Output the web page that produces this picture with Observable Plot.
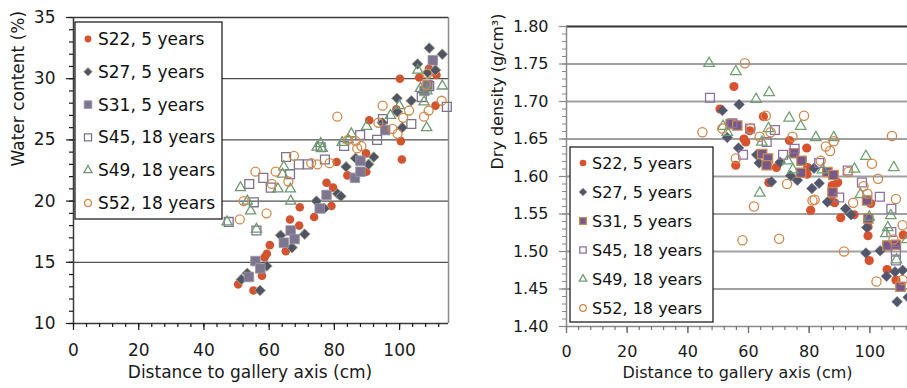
<!DOCTYPE html>
<html><head><meta charset="utf-8">
<script src="https://cdn.jsdelivr.net/npm/d3@7"></script>
<script src="https://cdn.jsdelivr.net/npm/@observablehq/plot@0.6"></script>
<style>
html,body{margin:0;padding:0;background:#fff;overflow:hidden;}
#wrap{position:relative;width:907px;height:388px;overflow:hidden;background:#fff;}
#wrap > svg{position:absolute;top:0;}
</style></head><body><div id="wrap"></div>
<script>
// ---------- data ----------
const seriesNames = ["S22, 5 years","S27, 5 years","S31, 5 years","S45, 18 years","S49, 18 years","S52, 18 years"];

// Water content (%) vs distance (cm)
const S22_water = [[50.5,13.2],[55.2,12.7],[55.7,15.1],[57.8,13.9],[58.6,15.4],[59.3,15.7],[60.2,16.4],[65.1,15.9],[66.4,18.5],[69.2,18.0],[69.4,19.5],[73.8,18.7],[77.6,21.5],[79.1,19.6],[79.6,21.1],[80.7,23.2],[84.0,22.1],[89.7,23.9],[89.8,22.4],[90.7,26.6],[99.0,27.5],[100.1,30.0],[100.4,24.9],[100.7,23.4],[106.0,30.1],[109.0,30.8],[111.3,30.3],[111.0,27.8]];
const S27_water = [[51.5,13.6],[53.3,14.1],[57.2,12.7],[59.3,14.7],[63.5,17.2],[67.0,16.2],[70.9,17.3],[74.5,20.0],[76.9,19.4],[81.0,20.6],[82.0,20.4],[83.6,22.8],[86.5,23.5],[90.5,23.0],[92.1,23.6],[94.7,26.4],[99.2,28.4],[99.3,27.3],[100.8,26.0],[103.6,28.2],[105.5,31.2],[108.6,30.5],[109.1,32.5],[111.0,30.7],[113.1,32.0]];
const S31_water = [[53.8,13.8],[55.8,15.1],[57.3,14.5],[64.5,16.6],[66.6,17.6],[67.8,16.9],[75.5,19.4],[77.6,20.5],[86.3,21.9],[88.0,22.4],[88.0,23.3],[95.6,25.8],[107.6,29.0],[108.6,29.5],[110.2,31.5]];
const S45_water = [[47.6,18.3],[53.9,21.4],[55.3,19.9],[56.1,17.6],[58.2,21.9],[60.5,21.1],[65.2,23.6],[66.4,22.2],[69.1,23.0],[71.9,23.0],[75.8,24.4],[77.1,23.4],[83.0,24.5],[87.9,25.4],[93.1,25.0],[94.9,26.7],[103.6,26.3],[106.8,28.5],[109.1,29.4],[114.5,27.7]];
const S49_water = [[47.1,18.3],[51.2,21.1],[53.3,20.0],[54.3,19.2],[56.1,17.7],[62.7,21.0],[64.1,22.2],[64.5,22.8],[66.5,21.0],[66.6,20.0],[74.7,24.4],[75.8,24.7],[76.3,24.3],[82.4,24.8],[84.3,25.0],[85.2,25.5],[89.9,26.1],[97.2,27.0],[99.9,27.8],[105.6,30.7],[106.4,29.2],[107.5,28.1],[108.4,29.0],[108.3,26.0],[113.1,29.4]];
const S52_water = [[51.0,18.5],[52.2,20.0],[55.8,22.4],[59.2,19.0],[60.8,21.4],[62.0,22.4],[65.9,21.6],[67.6,23.7],[72.9,23.1],[74.8,23.0],[78.5,23.1],[80.9,26.9],[84.2,25.0],[86.5,24.9],[87.0,24.3],[88.3,24.5],[93.5,26.4],[94.8,27.8],[97.8,25.9],[99.4,25.5],[101.1,26.8],[102.9,27.4],[107.5,26.9],[108.9,27.4],[108.1,29.5],[108.5,30.4],[112.9,28.2]];

// Dry density (g/cm3) vs distance (cm)
const S22_density = [[50.6,1.690],[55.2,1.720],[55.8,1.615],[58.5,1.650],[59.1,1.646],[60.4,1.661],[64.9,1.680],[66.4,1.621],[66.7,1.592],[69.2,1.612],[73.5,1.648],[79.2,1.638],[79.5,1.612],[79.3,1.603],[80.5,1.555],[87.6,1.588],[89.4,1.592],[87.4,1.567],[88.4,1.565],[90.4,1.545],[94.8,1.549],[99.4,1.533],[100.3,1.564],[99.4,1.521],[99.8,1.488],[105.7,1.476],[108.6,1.462],[111.0,1.522]];
const S27_density = [[51.4,1.688],[53.0,1.652],[56.7,1.638],[56.9,1.696],[62.7,1.629],[63.5,1.618],[67.6,1.593],[70.4,1.619],[73.9,1.601],[76.1,1.595],[80.9,1.584],[81.6,1.611],[83.3,1.591],[86.0,1.566],[92.0,1.557],[93.8,1.549],[99.0,1.532],[98.7,1.498],[103.4,1.501],[105.5,1.467],[108.3,1.473],[110.8,1.475],[109.0,1.433],[112.6,1.439]];
const S31_density = [[54.1,1.670],[56.3,1.668],[64.5,1.630],[66.4,1.624],[66.0,1.615],[75.0,1.631],[77.5,1.621],[77.3,1.605],[86.0,1.606],[88.0,1.602],[87.7,1.579],[99.1,1.568],[99.5,1.544],[105.8,1.508],[108.6,1.509],[110.1,1.453]];
const S45_density = [[47.3,1.705],[54.7,1.671],[58.2,1.629],[60.5,1.664],[66.0,1.646],[68.7,1.662],[71.4,1.629],[75.2,1.637],[83.3,1.618],[89.9,1.572],[92.7,1.608],[97.4,1.592],[103.3,1.573],[107.1,1.557],[107.1,1.526],[108.6,1.501],[108.6,1.488]];
const S49_density = [[47.0,1.751],[51.6,1.667],[53.0,1.659],[55.8,1.740],[62.5,1.703],[63.7,1.578],[64.4,1.646],[66.6,1.664],[66.8,1.712],[72.9,1.621],[73.4,1.678],[74.6,1.609],[77.2,1.667],[82.2,1.652],[84.4,1.609],[88.1,1.652],[94.9,1.610],[96.9,1.576],[98.7,1.627],[99.8,1.546],[105.3,1.524],[105.9,1.532],[106.9,1.548],[107.9,1.612],[108.8,1.489],[112.3,1.516]];
const S52_density = [[44.8,1.659],[51.4,1.664],[55.8,1.624],[58.0,1.515],[58.8,1.751],[60.7,1.664],[61.8,1.560],[63.7,1.653],[65.7,1.681],[67.3,1.659],[70.1,1.517],[72.7,1.590],[74.5,1.653],[78.3,1.681],[81.1,1.568],[81.8,1.569],[83.8,1.621],[85.5,1.640],[86.9,1.634],[88.1,1.647],[91.5,1.500],[92.9,1.606],[94.5,1.565],[97.9,1.587],[99.2,1.577],[100.7,1.617],[102.7,1.597],[102.2,1.460],[107.3,1.654],[107.8,1.516],[108.6,1.570],[110.8,1.535],[110.8,1.462]];

// ticks
const distTicks = [0, 20, 40, 60, 80, 100];
const distTickMarksR = [0, 20, 40, 60, 80, 100, 120];
const waterTicks = [10, 15, 20, 25, 30, 35];
const densityTicks = [1.40, 1.45, 1.50, 1.55, 1.60, 1.65, 1.70, 1.75, 1.80];

// ---------- styles ----------
const FONT = "DejaVu Sans";
const leftSty = [
  {symbol:"circle",   r:4.3, fill:"#D2532F", stroke:"none", sw:0},
  {symbol:"diamond2", r:4.8, fill:"#4F5367", stroke:"#A3A47A", sw:1},
  {symbol:"square",   r:5.4, fill:"#7E768F", stroke:"#9C97A8", sw:0.8},
  {symbol:"square",   r:5.0, fill:"none",    stroke:"#7C7290", sw:1.3},
  {symbol:"triangle", r:3.8, fill:"none",    stroke:"#6E9870", sw:1.3},
  {symbol:"circle",   r:4.5, fill:"none",    stroke:"#D28A4B", sw:1.3}
];
const rightSty = [
  {symbol:"circle",   r:4.6, fill:"#D9522E", stroke:"none", sw:0},
  {symbol:"diamond2", r:4.8, fill:"#52566B", stroke:"#6B6E80", sw:0.6},
  {symbol:"square",   r:5.3, fill:"#77588A", stroke:"#C98B52", sw:1.3},
  {symbol:"square",   r:5.0, fill:"none",    stroke:"#8C70A6", sw:1.3},
  {symbol:"triangle", r:3.9, fill:"none",    stroke:"#6FA070", sw:1.3},
  {symbol:"circle",   r:4.6, fill:"none",    stroke:"#D2864A", sw:1.3}
];
const waterSets = [S22_water,S27_water,S31_water,S45_water,S49_water,S52_water];
const densitySets = [S22_density,S27_density,S31_density,S45_density,S49_density,S52_density];

const pts = arr => arr.map(([x, y]) => ({x, y}));
const dots = (sets, sty) => sets.map((s, i) => Plot.dot(pts(s), {
  x: "x", y: "y", symbol: sty[i].symbol, r: sty[i].r,
  fill: sty[i].fill, stroke: sty[i].stroke, strokeWidth: sty[i].sw
}));

const wrap = document.getElementById("wrap");

// ---------- left chart ----------
const left = Plot.plot({
  width: 455, height: 388,
  marginLeft: 73, marginRight: 7, marginTop: 17, marginBottom: 65,
  x: {domain: [0, 115], axis: null},
  y: {domain: [10, 35], axis: null},
  style: {fontFamily: FONT, fontSize: "17px", color: "#1a1a1a", background: "transparent", overflow: "visible"},
  marks: [
    Plot.ruleY(waterTicks.filter(d => d > 10 && d < 35), {stroke: "#505050", strokeWidth: 1.3}),
    Plot.ruleY([35], {stroke: "#3a3a3a", strokeWidth: 1.5}),
    Plot.ruleX([115], {stroke: "#8a8a8a", strokeWidth: 1.5}),
    Plot.ruleX([0], {stroke: "#3a3a3a", strokeWidth: 1.5}),
    Plot.ruleY([10], {stroke: "#3a3a3a", strokeWidth: 1.5}),
    Plot.axisX({ticks: d3.range(0, 115, 4), tickSize: 4, text: null, label: null, strokeWidth: 1.2}),
    Plot.axisX({ticks: distTicks, tickSize: 7, tickPadding: 13, label: null, strokeWidth: 1.2}),
    Plot.axisY({ticks: d3.range(10, 35.5, 1), tickSize: 4, text: null, label: null, strokeWidth: 1.2}),
    Plot.axisY({ticks: waterTicks, tickSize: 7, tickPadding: 11, label: null, strokeWidth: 1.2}),
    ...dots(waterSets, leftSty),
    Plot.text(["Distance to gallery axis (cm)"], {frameAnchor: "bottom", dy: 54, dx: -11, text: d => d}),
    Plot.text(["Water content (%)"], {frameAnchor: "left", dx: -55, dy: -4, rotate: -90, text: d => d})
  ]
});
left.style.left = "0px";
wrap.appendChild(left);

// ---------- right chart ----------
const right = Plot.plot({
  width: 480, height: 388,
  marginLeft: 106, marginRight: 10, marginTop: 26, marginBottom: 62,
  x: {domain: [0, 120], axis: null},
  y: {domain: [1.40, 1.80], axis: null},
  style: {fontFamily: FONT, fontSize: "16px", color: "#1a1a1a", background: "transparent", overflow: "visible"},
  marks: [
    Plot.ruleY(densityTicks.filter(d => d > 1.41 && d < 1.79), {stroke: "#a0a0a0", strokeWidth: 2}),
    Plot.ruleY([1.80], {stroke: "#333", strokeWidth: 1.8}),
    Plot.ruleX([0], {stroke: "#8a8a8a", strokeWidth: 1.5}),
    Plot.ruleY([1.40], {stroke: "#8a8a8a", strokeWidth: 1.5}),
    Plot.axisX({ticks: d3.range(0, 121, 4), tickSize: 4, text: null, label: null, stroke: "#777", strokeWidth: 1.2}),
    Plot.axisX({ticks: distTickMarksR, tickSize: 7, text: null, label: null, stroke: "#777", strokeWidth: 1.2}),
    Plot.axisX({ticks: distTicks, tickSize: 7, tickPadding: 12, label: null, stroke: "#777", strokeWidth: 1.2}),
    Plot.axisY({ticks: d3.range(140, 181, 1).map(d => d / 100), tickSize: 4, text: null, label: null, stroke: "#888", strokeWidth: 1}),
    Plot.axisY({ticks: densityTicks, tickSize: 7, tickPadding: 11, label: null, tickFormat: d3.format(".2f"), stroke: "#888", strokeWidth: 1.2}),
    ...dots(densitySets, rightSty),
    Plot.text(["Distance to gallery axis (cm)"], {frameAnchor: "bottom", dy: 51, dx: -11, text: d => d}),
    Plot.text(["Dry density (g/cm³)"], {frameAnchor: "left", dx: -69, dy: -7, rotate: -90, text: d => d})
  ]
});
right.style.left = "460px";
wrap.appendChild(right);

// ---------- legends ----------
const symTypes = {circle: d3.symbolCircle, diamond2: d3.symbolDiamond2, square: d3.symbolSquare, triangle: d3.symbolTriangle};
const leg = d3.create("svg").attr("width", 907).attr("height", 388)
  .style("left", "0px").style("font-family", FONT);

function legend(box, rows, sty, scale, fontSize) {
  leg.append("rect").attr("x", box.x).attr("y", box.y).attr("width", box.w).attr("height", box.h)
    .attr("fill", "#fff").attr("stroke", "#222").attr("stroke-width", 1.3);
  seriesNames.forEach((name, i) => {
    const cy = rows.y0 + i * rows.dy;
    const s = sty[i];
    const r = s.r * scale;
    leg.append("path")
      .attr("d", d3.symbol(symTypes[s.symbol], Math.PI * r * r)())
      .attr("transform", `translate(${rows.sx},${cy})`)
      .attr("fill", s.fill).attr("stroke", s.stroke).attr("stroke-width", s.sw);
    leg.append("text").attr("x", rows.tx).attr("y", cy).attr("dy", "0.35em")
      .attr("font-size", fontSize).attr("fill", "#111").text(name);
  });
}
legend({x: 75, y: 22, w: 147, h: 197}, {y0: 39, dy: 32.8, sx: 88, tx: 98}, leftSty, 0.8, "17px");
legend({x: 570, y: 147, w: 143, h: 175}, {y0: 163, dy: 29, sx: 583, tx: 592}, rightSty, 0.72, "16px");
wrap.appendChild(leg.node());
</script></body></html>
